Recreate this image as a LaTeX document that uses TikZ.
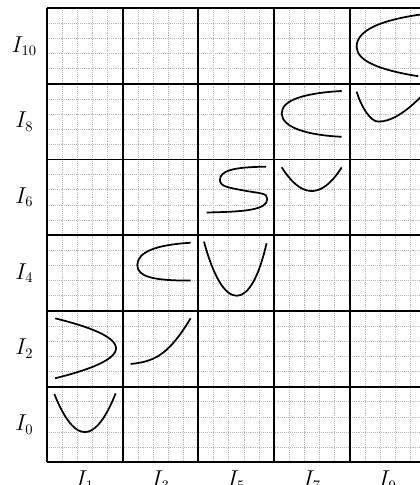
\documentclass[tikz,border=0pt]{standalone}
\begin{document}
\begin{tikzpicture}[x=2cm,y=2cm,
  minorgrid/.style={gray!55, densely dotted, line width=0.45pt},
  majorgrid/.style={black, line width=1.4pt},
  curve/.style={black, line width=1.3pt},
  lab/.style={font=\fontsize{16}{19}\selectfont, inner sep=0pt}]
\clip (-0.621,-0.300) rectangle (4.927,6.107);
\draw[minorgrid] (0,0) grid[step=0.2] (5,6);
\draw[majorgrid] (0,0) grid[step=1] (5,6);
% I1 x I0
\draw[curve] plot[domain=0.097:0.907, samples=40] (\x, {0.40+3.08*(\x-0.5)^2});
% I1 x I2
\draw[curve] plot[domain=1.11:1.902, samples=40] ({0.911-5.13*(\x-1.506)^2}, \x);
% I3 x I2
\draw[curve] (1.105,1.299) .. controls (1.45,1.33) and (1.62,1.45) .. (1.898,1.902);
% I3 x I4
\draw[curve] (1.898,2.90) .. controls (1.45,2.875) and (1.193,2.78) .. (1.193,2.606)
  .. controls (1.193,2.45) and (1.40,2.40) .. (1.898,2.40);
% I5 x I4
\draw[curve] (2.074,2.914) .. controls (2.20,2.45) and (2.35,2.20) .. (2.506,2.20)
  .. controls (2.66,2.20) and (2.80,2.45) .. (2.90,2.893);
% I5 x I6
\draw[curve] (2.893,3.905) .. controls (2.45,3.90) and (2.285,3.85) .. (2.285,3.73)
  .. controls (2.285,3.64) and (2.40,3.63) .. (2.60,3.59)
  .. controls (2.82,3.55) and (2.91,3.56) .. (2.91,3.48)
  .. controls (2.91,3.33) and (2.60,3.31) .. (2.11,3.30);
% I7 x I6
\draw[curve] plot[domain=3.10:3.893, samples=40] (\x, {3.584+1.99*(\x-3.497)^2});
% I7 x I8
\draw[curve] (3.893,4.905) .. controls (3.45,4.88) and (3.10,4.80) .. (3.10,4.61)
  .. controls (3.10,4.42) and (3.45,4.32) .. (3.893,4.30);
% I9 x I8
\draw[curve] (4.09,4.896) .. controls (4.15,4.70) and (4.27,4.50) .. (4.377,4.50)
  .. controls (4.55,4.50) and (4.75,4.63) .. (4.97,4.86);
% I9 x I10
\draw[curve] (4.97,5.92) .. controls (4.45,5.85) and (4.09,5.72) .. (4.09,5.49)
  .. controls (4.09,5.30) and (4.40,5.18) .. (4.905,5.10);
% labels
\foreach \r/\n in {0/0,1/2,2/4,3/6,4/8,5/10}
  \node[lab] (L\n) at (-0.30,\r+0.5) {$I_{\n}$};
\foreach \c/\n in {0/1,1/3,2/5,3/7,4/9}
  \node[lab, anchor=base] (B\n) at (\c+0.5,-0.323) {$I_{\n}$};
\end{tikzpicture}
\end{document}
